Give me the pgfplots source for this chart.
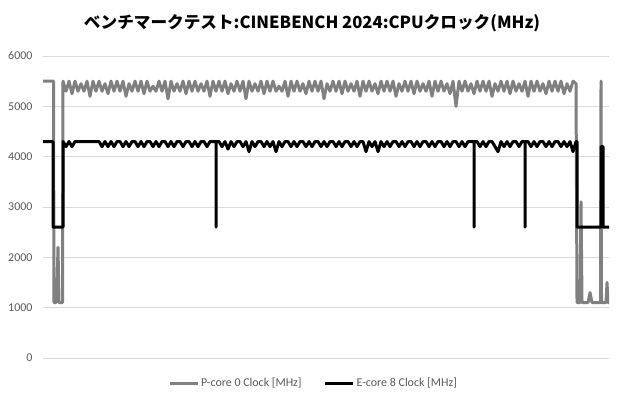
\documentclass[border=0pt]{standalone}
\usepackage{fontspec}
\setmainfont{Carlito}
\newfontfamily\cjk{Noto Sans CJK JP}
\usepackage{pgfplots}
\pgfplotsset{compat=1.18}
\definecolor{pcol}{RGB}{128,128,128}
\definecolor{tickgray}{RGB}{89,89,89}
\definecolor{gridgray}{RGB}{217,217,217}

\begin{document}
\begin{tikzpicture}[x=1bp,y=1bp]
\path[use as bounding box] (0,0) rectangle (620,400);
\node[font=\cjk\bfseries\fontsize{16.7}{19}\selectfont] at (312,377) {ベンチマークテスト:CINEBENCH 2024:CPUクロック(MHz)};
\begin{axis}[
  at={(43bp,42bp)}, anchor=south west,
  scale only axis, width=566bp, height=302bp,
  xmin=0, xmax=566, ymin=0, ymax=6000,
  axis line style={draw=none},
  xtick=\empty,
  ytick={0,1000,...,6000},
  ymajorgrids,
  grid style={gridgray, line width=0.75bp},
  major tick length=0pt,
  tick label style={font=\fontsize{12}{14}\selectfont, text=tickgray},
  yticklabel style={xshift=-7bp},
  /pgf/number format/assume math mode=true,
  /pgf/number format/1000 sep={},
  legend style={at={(0.478,-0.083)}, anchor=center, draw=none,
    font=\fontsize{12}{14}\selectfont, text=tickgray,
    /tikz/every even column/.append style={column sep=20bp}},
  legend columns=2,
  legend image code/.code={\draw[#1] (0bp,0bp) -- (28bp,0bp);},
]
\addplot[pcol, line width=3bp, line join=round] table {
x y
0 5500
10.5 5500
11 1100
13 1100
14 1400
15 2200
16 1100
19.5 1100
20 5500
23 5300
26 5500
29 5250
32 5500
35 5300
38 5450
41 5300
44 5500
47 5200
50 5500
53 5300
56 5500
59 5300
62 5450
65 5250
68 5500
71 5300
74 5500
77 5300
80 5500
83 5200
86 5450
89 5300
92 5500
95 5300
98 5500
101 5250
104 5500
107 5300
110 5400
113 5300
116 5500
119 5300
122 5500
125 5150
128 5500
131 5300
134 5450
137 5300
140 5500
143 5250
146 5500
149 5300
152 5500
155 5300
158 5450
161 5300
164 5500
167 5200
170 5500
173 5300
176 5500
179 5300
182 5500
185 5250
188 5450
191 5300
194 5500
197 5300
200 5500
203 5150
206 5500
209 5300
212 5450
215 5300
218 5500
221 5250
224 5500
227 5300
230 5500
233 5300
236 5400
239 5300
242 5500
245 5200
248 5500
251 5300
254 5500
257 5300
260 5450
263 5250
266 5500
269 5300
272 5500
275 5300
278 5500
281 5150
284 5450
287 5300
290 5500
293 5300
296 5500
299 5250
302 5500
305 5300
308 5450
311 5300
314 5500
317 5200
320 5500
323 5300
326 5500
329 5300
332 5450
335 5250
338 5500
341 5300
344 5500
347 5300
350 5500
353 5200
356 5450
359 5300
362 5500
365 5300
368 5500
371 5250
374 5500
377 5300
380 5450
383 5300
386 5500
389 5200
392 5500
395 5300
398 5500
401 5300
404 5450
407 5250
410 5500
413 5000
416 5500
419 5300
422 5500
425 5300
428 5450
431 5250
434 5500
437 5300
440 5500
443 5300
446 5500
449 5200
452 5450
455 5300
458 5500
461 5300
464 5500
467 5250
470 5500
473 5300
476 5450
479 5300
482 5500
485 5200
488 5500
491 5300
494 5500
497 5300
500 5450
503 5250
506 5500
509 5300
512 5500
515 5300
518 5500
521 5250
524 5450
527 5300
530 5500
533 5450
534 1100
537 1100
538 3100
539 1100
545 1100
547 1300
549 1100
557.5 1100
558 5500
558.5 1100
563 1100
564 1500
565 1100
566 1100
};
\addlegendentry{P-core 0 Clock [MHz]}

\addplot[black, line width=3bp, line join=round] table {
x y
0 4300
10 4300
10 2600
20 2600
20 4300
23 4200
26 4300
29 4200
32 4300
35 4300
38 4300
41 4300
44 4300
47 4300
50 4300
53 4300
56 4300
59 4200
62 4300
65 4200
68 4300
71 4200
74 4300
77 4300
80 4200
83 4300
86 4200
89 4300
92 4300
95 4200
98 4300
101 4200
104 4300
107 4300
110 4200
113 4300
116 4200
119 4300
122 4300
125 4200
128 4300
131 4200
134 4300
137 4300
140 4200
143 4300
146 4300
149 4200
152 4300
155 4200
158 4300
161 4300
164 4200
167 4300
170 4300
173 4300
173 2600
173 4300
176 4300
179 4200
182 4300
185 4150
188 4300
191 4200
194 4300
197 4300
200 4200
203 4300
206 4100
209 4300
212 4200
215 4300
218 4300
221 4200
224 4300
227 4200
230 4300
233 4100
236 4300
239 4200
242 4300
245 4300
248 4200
251 4300
254 4200
257 4300
260 4300
263 4200
266 4300
269 4200
272 4300
275 4300
278 4200
281 4300
284 4200
287 4300
290 4300
293 4200
296 4300
299 4200
302 4300
305 4300
308 4200
311 4300
314 4200
317 4300
320 4300
323 4100
326 4300
329 4200
332 4300
335 4100
338 4300
341 4200
344 4300
347 4200
350 4300
353 4300
356 4200
359 4300
362 4200
365 4300
368 4300
371 4200
374 4300
377 4200
380 4300
383 4300
386 4200
389 4300
392 4200
395 4300
398 4300
401 4200
404 4300
407 4200
410 4300
413 4300
416 4200
419 4300
422 4200
425 4300
428 4300
431 4300
431 2600
431 4300
434 4300
437 4200
440 4300
443 4200
446 4300
449 4300
452 4200
455 4100
458 4300
461 4200
464 4300
467 4200
470 4300
473 4300
476 4200
479 4300
482 4300
482 2600
482 4300
485 4300
488 4200
491 4300
494 4200
497 4300
500 4300
503 4200
506 4300
509 4200
512 4300
515 4300
518 4200
521 4300
524 4200
527 4300
530 4100
533 4300
534 4300
534 2600
558 2600
558 4200
560 4200
560 2600
566 2600
};
\addlegendentry{E-core 8 Clock [MHz]}
\end{axis}
\end{tikzpicture}
\end{document}
